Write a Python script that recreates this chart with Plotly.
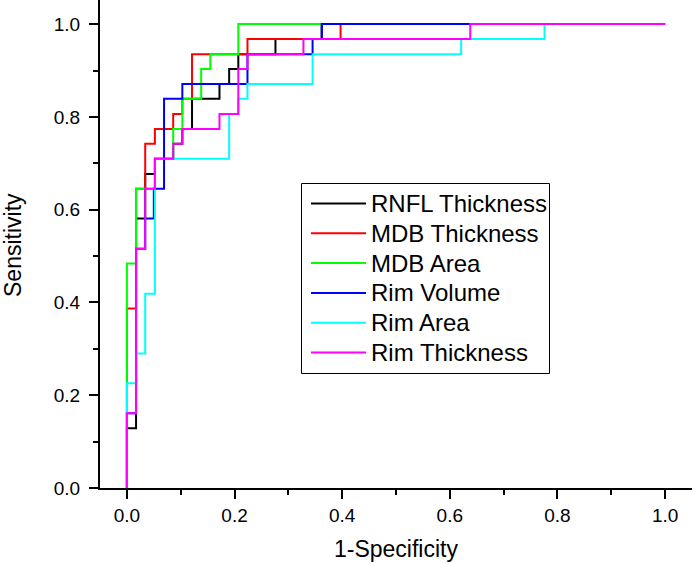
import plotly.graph_objects as go

# ---------------- data ----------------
series_names = ["RNFL Thickness", "MDB Thickness", "MDB Area",
                "Rim Volume", "Rim Area", "Rim Thickness"]
series_colors = ["#000000", "#FF0000", "#00FF00", "#0000FF", "#00FFFF", "#FF00FF"]

rnfl_x = [0, 0, 0.017, 0.017, 0.034, 0.034, 0.052, 0.052, 0.086, 0.086, 0.103, 0.103,
          0.121, 0.121, 0.172, 0.172, 0.190, 0.190, 0.207, 0.207, 0.276, 0.276,
          0.362, 0.362, 1.0]
rnfl_y = [0, 0.129, 0.129, 0.581, 0.581, 0.677, 0.677, 0.710, 0.710, 0.742, 0.742, 0.774,
          0.774, 0.839, 0.839, 0.871, 0.871, 0.903, 0.903, 0.935, 0.935, 0.968,
          0.968, 1.0, 1.0]

mdbt_x = [0, 0, 0.017, 0.017, 0.034, 0.034, 0.052, 0.052, 0.086, 0.086, 0.103, 0.103,
          0.121, 0.121, 0.224, 0.224, 0.397, 0.397, 1.0]
mdbt_y = [0, 0.387, 0.387, 0.645, 0.645, 0.742, 0.742, 0.774, 0.774, 0.806, 0.806, 0.839,
          0.839, 0.935, 0.935, 0.968, 0.968, 1.0, 1.0]

mdba_x = [0, 0, 0.017, 0.017, 0.052, 0.052, 0.086, 0.086, 0.103, 0.103, 0.138, 0.138,
          0.155, 0.155, 0.207, 0.207, 1.0]
mdba_y = [0, 0.484, 0.484, 0.645, 0.645, 0.710, 0.710, 0.774, 0.774, 0.839, 0.839, 0.903,
          0.903, 0.935, 0.935, 1.0, 1.0]

rimv_x = [0, 0, 0.017, 0.017, 0.034, 0.034, 0.050, 0.050, 0.069, 0.069, 0.103, 0.103,
          0.224, 0.224, 0.345, 0.345, 0.362, 0.362, 1.0]
rimv_y = [0, 0.161, 0.161, 0.516, 0.516, 0.581, 0.581, 0.645, 0.645, 0.839, 0.839, 0.871,
          0.871, 0.935, 0.935, 0.968, 0.968, 1.0, 1.0]

rima_x = [0, 0, 0.017, 0.017, 0.034, 0.034, 0.052, 0.052, 0.190, 0.190, 0.207, 0.207,
          0.224, 0.224, 0.345, 0.345, 0.621, 0.621, 0.776, 0.776, 1.0]
rima_y = [0, 0.226, 0.226, 0.290, 0.290, 0.419, 0.419, 0.710, 0.710, 0.806, 0.806, 0.839,
          0.839, 0.871, 0.871, 0.935, 0.935, 0.968, 0.968, 1.0, 1.0]

rimt_x = [0, 0, 0.017, 0.017, 0.034, 0.034, 0.052, 0.052, 0.086, 0.086, 0.103, 0.103,
          0.172, 0.172, 0.207, 0.207, 0.224, 0.224, 0.328, 0.328, 0.638, 0.638, 1.0]
rimt_y = [0, 0.161, 0.161, 0.516, 0.516, 0.645, 0.645, 0.710, 0.710, 0.742, 0.742, 0.774,
          0.774, 0.806, 0.806, 0.903, 0.903, 0.935, 0.935, 0.968, 0.968, 1.0, 1.0]

x_ticks = [0.0, 0.2, 0.4, 0.6, 0.8, 1.0]
y_ticks = [0.0, 0.2, 0.4, 0.6, 0.8, 1.0]
x_title = "1-Specificity"
y_title = "Sensitivity"

all_x = [rnfl_x, mdbt_x, mdba_x, rimv_x, rima_x, rimt_x]
all_y = [rnfl_y, mdbt_y, mdba_y, rimv_y, rima_y, rimt_y]

# ---------------- layout geometry ----------------
W, H = 695, 564
ML, MR, MT, MB = 100, 3, 0, 76
PW, PH = W - ML - MR, H - MT - MB
FONT = "Arial, Liberation Sans, sans-serif"


def px_x(p):
    return (p - ML) / PW


def px_y(p):
    return (H - MB - p) / PH


fig = go.Figure()
for name, color, xs, ys in zip(series_names, series_colors, all_x, all_y):
    fig.add_trace(go.Scatter(x=xs, y=ys, mode="lines", name=name,
                             line=dict(color=color, width=2),
                             showlegend=False, hoverinfo="x+y+name"))

axis_common = dict(showline=True, linecolor="black", linewidth=2, mirror=False,
                   showgrid=False, zeroline=False, ticks="outside", ticklen=9,
                   tickwidth=2, tickcolor="black",
                   tickfont=dict(family=FONT, size=19, color="black"),
                   tickformat=".1f",
                   minor=dict(ticks="outside", ticklen=5, tickwidth=2,
                              tickcolor="black", dtick=0.1, showgrid=False))

fig.update_xaxes(range=[-0.05, 1.05], tickvals=x_ticks, **axis_common)
fig.update_yaxes(range=[0, 1.052], tickvals=y_ticks, ticklabelstandoff=5, **axis_common)

# axis titles
annotations = [
    dict(text=x_title, xref="paper", yref="paper", x=px_x(396), y=px_y(549),
         xanchor="center", yanchor="middle", showarrow=False,
         font=dict(family=FONT, size=23, color="black")),
    dict(text=y_title, xref="paper", yref="paper", x=px_x(13), y=px_y(245),
         xanchor="center", yanchor="middle", showarrow=False, textangle=-90,
         font=dict(family=FONT, size=23, color="black")),
]

# legend box drawn by hand to match the reference look
shapes = [dict(type="rect", xref="paper", yref="paper",
               x0=px_x(301.5), x1=px_x(549.5), y0=px_y(373.5), y1=px_y(183.5),
               line=dict(color="black", width=1), fillcolor="white", layer="above")]
row0, row_step = 203.5, 29.8
for i, (name, color) in enumerate(zip(series_names, series_colors)):
    yy = px_y(row0 + i * row_step)
    shapes.append(dict(type="line", xref="paper", yref="paper",
                       x0=px_x(311), x1=px_x(366), y0=yy, y1=yy,
                       line=dict(color=color, width=2), layer="above"))
    annotations.append(dict(text=name, xref="paper", yref="paper",
                            x=px_x(369), y=yy, xanchor="left", yanchor="middle",
                            showarrow=False,
                            font=dict(family=FONT, size=24, color="black")))

fig.update_layout(width=W, height=H, margin=dict(l=ML, r=MR, t=MT, b=MB),
                  paper_bgcolor="white", plot_bgcolor="white",
                  shapes=shapes, annotations=annotations, showlegend=False,
                  font=dict(family=FONT))

fig.write_html("out.html", config={"displayModeBar": False},
               post_script="document.body.style.margin='0';"
                           "document.body.style.overflow='hidden';")
